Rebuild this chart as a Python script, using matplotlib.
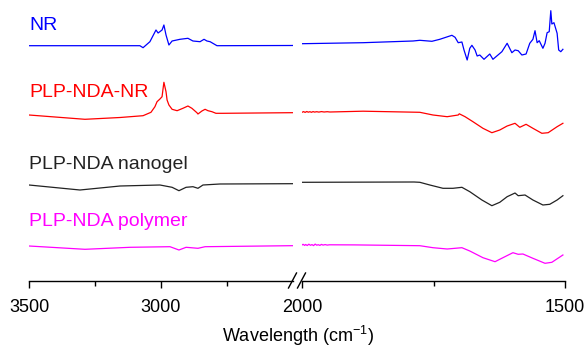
import matplotlib.pyplot as plt

plt.rcParams['font.family'] = ['Liberation Sans', 'DejaVu Sans']
plt.rcParams['mathtext.default'] = 'regular'

# wavenumbers (cm-1) and signal (a.u.)
wn_nr = [3500, 3080, 3068, 3042, 3019, 3011, 2996, 2989, 2981, 2970, 2958, 2928, 2898, 2879,
         2852, 2837, 2826, 2814, 2788, 2508,
         2000, 1884, 1789, 1776, 1753, 1738, 1715, 1709, 1703, 1696, 1692, 1686, 1681, 1677,
         1671, 1667, 1662, 1654, 1643, 1637, 1620, 1610, 1601, 1595, 1589, 1582, 1574, 1567,
         1561, 1557, 1553, 1549, 1542, 1538, 1534, 1530, 1527, 1525, 1521, 1515, 1512, 1508, 1504]
nr = [234.3, 234.3, 232.3, 238.3, 250, 247, 250, 255, 245, 235, 239, 240.7, 241.7, 239,
      238.3, 240.7, 239, 238.3, 234.3, 234.5,
      236.3, 237.3, 239, 239.7, 238.7, 240.7, 244.7, 242.7, 237.3, 238, 230, 220, 231.7, 234.7,
      230, 224, 225, 220.7, 226, 220.7, 228.3, 236.7, 227.3, 230, 229.3, 225, 226, 236.7,
      240.7, 249.3, 237.3, 239.3, 231.7, 236.7, 247.3, 248.3, 269.3, 256, 257.3, 246.7, 230, 228.3, 230.7]

wn_nanonr = [3500, 3288, 3155, 3068, 3038, 3023, 3015, 3004, 2996, 2992, 2989, 2981, 2977, 2970,
             2958, 2939, 2917, 2898, 2883, 2864, 2860, 2845, 2833, 2822, 2807, 2792, 2765, 2508,
             2000, 1997, 1994, 1991, 1988, 1985, 1982, 1979, 1976, 1972, 1968, 1963, 1958, 1952,
             1947, 1884, 1776, 1751,
             1724, 1703, 1701, 1690, 1675, 1656, 1639, 1624, 1610, 1595, 1586, 1574, 1561, 1544,
             1532, 1515, 1504]
nanonr = [165, 160.7, 162.5, 164.3, 167.7, 173.3, 178.3, 181, 183.3, 191.7, 197.7, 188.3, 180, 175,
          170.7, 169.3, 171.7, 174, 171.7, 167.3, 166, 169, 170.7, 169.3, 168.3, 166.7, 166.7, 167.3,
          167.7, 168.4, 167.6, 168.5, 167.8, 168.3, 167.7, 168.4, 167.9, 168.3, 167.9, 168.4, 168, 168.3,
          168, 168.8, 167.7, 165,
          163.3, 165, 166.2, 163.3, 158.3, 151.7, 147.3, 150, 154, 156.7, 152.7, 155.7, 151.7, 146.7,
          147.3, 153.3, 156.7]

wn_gel = [3500, 3307, 3155, 3004, 2958, 2932, 2905, 2879, 2860, 2841, 2777, 2508,
          2000, 1787, 1776, 1757, 1732, 1713, 1696, 1681, 1658, 1639, 1624, 1610, 1595, 1589,
          1576, 1561, 1542, 1529, 1515, 1504]
gel = [95, 90, 94, 95, 92.7, 89.3, 92.7, 93.3, 91.7, 95, 96, 96.3,
       97.7, 98, 97.7, 95, 91.7, 91.7, 92.7, 88.3, 80, 74.3, 77.7, 83.3, 87, 84.3,
       85, 80, 75, 75.7, 80, 84.3]

wn_poly = [3500, 3288, 3117, 2966, 2932, 2905, 2860, 2833, 2508,
           2000, 1998, 1995, 1993, 1990, 1987, 1984, 1981, 1978, 1975, 1972, 1969, 1966, 1963,
           1960, 1956, 1952, 1948, 1900,
           1776, 1751, 1724, 1696, 1681, 1656, 1633, 1618, 1599, 1589, 1580, 1561, 1538, 1525, 1504]
poly = [34, 30.7, 32.7, 33.3, 30, 32.7, 31.7, 33.3, 34.3,
        35, 35.7, 34.6, 35.5, 34.5, 35.8, 34.7, 35.4, 34.4, 35.9, 34.8, 35.3, 34.6, 35.6,
        34.9, 35.4, 34.9, 35.2, 35.1,
        34.3, 32.3, 31, 32.3, 29, 22.3, 18.3, 22.3, 27.3, 25.7, 26, 21.7, 16.7, 17.7, 25]

series = [
    ('NR', wn_nr, nr, '#0000ff', 250),
    ('PLP-NDA-NR', wn_nanonr, nanonr, '#ff0000', 183),
    ('PLP-NDA nanogel', wn_gel, gel, '#222222', 111),
    ('PLP-NDA polymer', wn_poly, poly, '#ff00ff', 54.3),
]

W, H = 585, 349
fig = plt.figure(figsize=(W / 100, H / 100), dpi=100)
axL = fig.add_axes([29 / W, 1 - 281 / H, (293 - 29) / W, 281 / H])
axR = fig.add_axes([302 / W, 1 - 281 / H, (565 - 302) / W, 281 / H])

for ax in (axL, axR):
    for name, x, y, c, ty in series:
        ax.plot(x, y, color=c, lw=0.9)
    ax.set_ylim(-1, 280)
    ax.set_yticks([])
    for s in ('left', 'right', 'top'):
        ax.spines[s].set_visible(False)
    ax.spines['bottom'].set_linewidth(1.0)
    ax.tick_params(axis='x', which='major', direction='out', length=5, width=1, labelsize=13, pad=8)
    ax.tick_params(axis='x', which='minor', direction='out', length=3.5, width=1)
    ax.patch.set_alpha(0)

axL.set_xlim(3500, 2500)
axL.set_xticks([3500, 3000])
axL.set_xticks([3250, 2750], minor=True)
axR.set_xlim(2000, 1500)
axR.set_xticks([2000, 1500])
axR.set_xticks([1750], minor=True)

for name, x, y, c, ty in series:
    axL.text(3500, ty, name, color=c, fontsize=14, va='baseline', ha='left')

# break marks on the axis
for cx in (292.5, 301.5):
    fig.add_artist(plt.Line2D([(cx - 4) / W, (cx + 4) / W], [1 - 288 / H, 1 - 273 / H],
                              color='black', lw=1))

fig.text(298 / W, 1 - 342 / H, 'Wavelength (cm$^{-1}$)', ha='center', va='baseline', fontsize=13)

fig.savefig('out.png', dpi=100)
